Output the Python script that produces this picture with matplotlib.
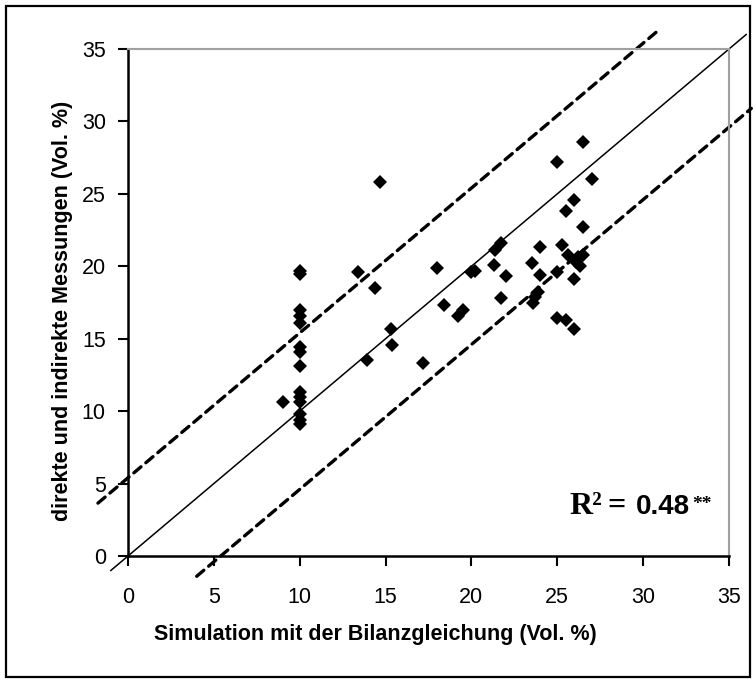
import matplotlib
matplotlib.use('Agg')
import matplotlib.pyplot as plt
from matplotlib.patches import Rectangle

# Simulation (x) gegen direkte/indirekte Messungen (y), Vol. %
sim_x = [10, 10, 10, 10, 10, 10, 10, 10, 10, 10, 10, 10, 10, 10,
         9.0, 14.7, 13.4, 14.4, 15.3, 15.4, 13.9, 17.2,
         18.0, 18.4, 19.2, 19.5, 20.0, 20.2, 21.3, 21.4, 21.7, 21.7, 22.0,
         23.5, 23.6, 23.7, 23.9, 24.0, 24.0, 25.0, 25.0, 25.0, 25.3, 25.5,
         25.5, 25.6, 26.0, 26.0, 26.0, 26.1, 26.2, 26.3, 26.5, 26.5, 26.5, 27.0]
mess_y = [19.7, 19.5, 17.0, 16.6, 16.1, 14.4, 14.1, 13.1, 11.3, 11.0, 10.6, 9.8, 9.4, 9.1,
          10.65, 25.8, 19.6, 18.5, 15.7, 14.6, 13.5, 13.3,
          19.9, 17.3, 16.6, 17.0, 19.6, 19.7, 20.1, 21.1, 21.6, 17.8, 19.35,
          20.2, 17.5, 17.9, 18.2, 21.3, 19.4, 27.2, 19.6, 16.45, 21.45, 23.8,
          16.3, 20.8, 24.6, 19.15, 15.65, 20.3, 20.65, 20.0, 28.6, 22.7, 20.8, 26.0]

# 1:1-Linie und Abweichungsgrenzen
line_x = [-1.0, 36.0]
upper_x = [-1.75, 31.0]
lower_x = [4.0, 36.3]
offset = 5.4

ticks = [0, 5, 10, 15, 20, 25, 30, 35]

plt.rcParams['font.family'] = ['Liberation Sans', 'DejaVu Sans']

W, H = 755, 682
fig = plt.figure(figsize=(W / 100, H / 100), dpi=100)
ax = fig.add_axes([128 / W, 1 - 556 / H, (729 - 128) / W, (556 - 49) / H])

ax.plot(line_x, line_x, color='black', lw=1.1, clip_on=False, zorder=2)
ax.plot(upper_x, [v + offset for v in upper_x], color='black', lw=2.4,
        dashes=(2.8, 1.9), dash_capstyle='round', clip_on=False, zorder=2)
ax.plot(lower_x, [v - offset for v in lower_x], color='black', lw=2.4,
        dashes=(2.8, 1.9), dash_capstyle='round', clip_on=False, zorder=2)
ax.plot(sim_x, mess_y, linestyle='none', marker='D', ms=6.8, color='black',
        markeredgewidth=0, zorder=3, clip_on=False)

ax.set_xlim(0, 35)
ax.set_ylim(0, 35)
ax.set_xticks(ticks)
ax.set_yticks(ticks)
ax.tick_params(direction='out', length=7, width=1.5, labelsize=15.5, colors='black')
ax.tick_params(axis='x', pad=15)
ax.tick_params(axis='y', pad=9)

for side in ['left', 'bottom']:
    ax.spines[side].set_linewidth(1.8)
    ax.spines[side].set_color('black')
for side in ['top', 'right']:
    ax.spines[side].set_linewidth(1.5)
    ax.spines[side].set_color('#a0a0a0')

ax.set_xlabel('Simulation mit der Bilanzgleichung (Vol. %)', fontsize=15.5,
              fontweight='bold', labelpad=12)
ax.xaxis.label.set_x(0.412)
ax.set_ylabel('direkte und indirekte Messungen (Vol. %)', fontsize=15.5,
              fontweight='bold', labelpad=6)
ax.yaxis.label.set_y(0.483)

# Bestimmtheitsmass, Teile in unterschiedlichen Schriften
serif = 'Liberation Serif'
sans = 'Liberation Sans'
fig.text(569 / W, 1 - 514 / H, 'R²', family=serif, weight='bold', fontsize=23, va='baseline')
fig.text(607 / W, 1 - 514 / H, '=', family=serif, weight='bold', fontsize=23, va='baseline')
fig.text(636 / W, 1 - 514 / H, '0.48', family=sans, weight='bold', fontsize=20, va='baseline')
fig.text(692 / W, 1 - 509 / H, '**', family=serif, weight='bold', fontsize=14, va='baseline')

# Rahmen um die gesamte Grafik
fig.patches.append(Rectangle((6 / W, 5 / H), 744 / W, 671 / H,
                             transform=fig.transFigure, fill=False,
                             edgecolor='black', lw=1.6))

fig.savefig('out.png', dpi=100)
